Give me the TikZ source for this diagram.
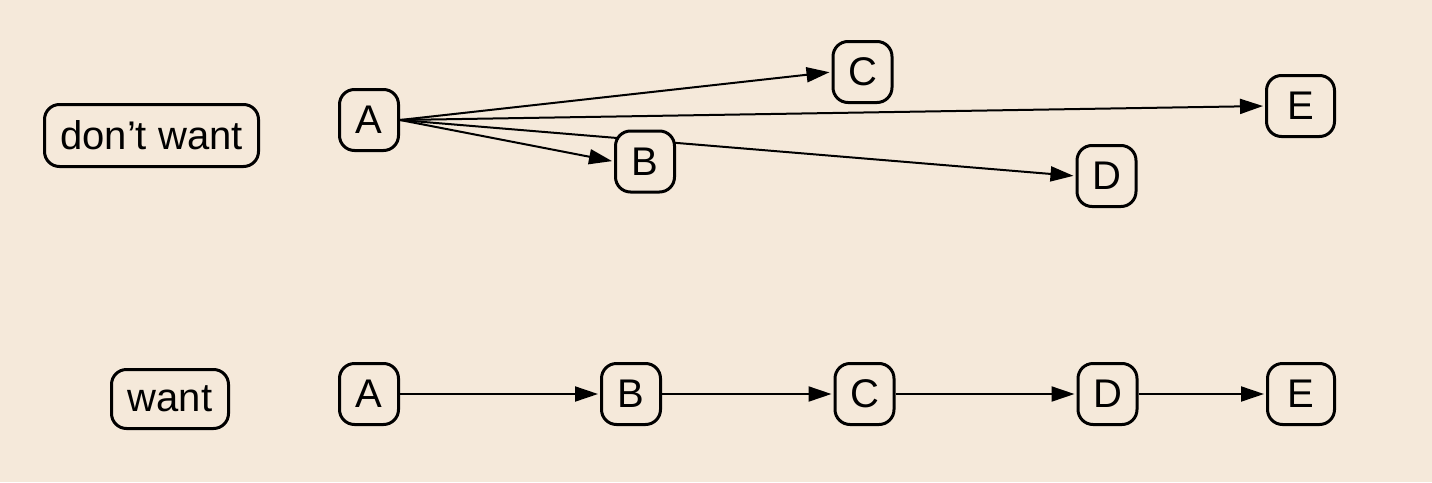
\documentclass[tikz,border=0pt]{standalone}
\usepackage{fontspec}
\setmainfont{Liberation Sans}
\usetikzlibrary{arrows.meta,backgrounds}
\definecolor{bgc}{RGB}{245,233,218}
\begin{document}
\begin{tikzpicture}[x=1pt,y=-1pt,
  box/.style={draw=black,line width=3pt,rounded corners=15pt,fill=bgc,
    inner sep=0pt,minimum width=59pt,minimum height=61pt,
    font=\fontsize{40}{48}\selectfont},
  edge/.style={line width=2pt,-{Triangle[length=23pt,width=15pt]},shorten >=2pt}]
\useasboundingbox (0,0) rectangle (1432,482);
\node[box,minimum width=214pt,minimum height=62pt] (dw) at (151.5,135.5) {don’t want};
\node[box] (A1) at (369,120) {A};
\node[box] (C1) at (862.5,72) {C};
\node[box,minimum width=68pt] (E1) at (1300.5,106) {E};
\node[box] (B1) at (645,161.5) {B};
\node[box] (D1) at (1106.5,176) {D};
\node[box,minimum width=117pt,minimum height=59pt] (w) at (170,399) {want};
\node[box] (A2) at (369,394) {A};
\node[box] (B2) at (631,394) {B};
\node[box] (C2) at (864.5,394) {C};
\node[box] (D2) at (1107.5,394) {D};
\node[box,minimum width=67pt] (E2) at (1301,394) {E};
\begin{scope}[on background layer]
\fill[bgc] (0,0) rectangle (1432,482);
\draw[edge] (A1.east) -- (C1.west);
\draw[edge] (A1.east) -- (E1.west);
\draw[edge] (A1.east) -- (B1.west);
\draw[edge] (A1.east) -- (D1.west);
\draw[edge] (A2) -- (B2);
\draw[edge] (B2) -- (C2);
\draw[edge] (C2) -- (D2);
\draw[edge] (D2) -- (E2);
\end{scope}
\end{tikzpicture}
\end{document}
